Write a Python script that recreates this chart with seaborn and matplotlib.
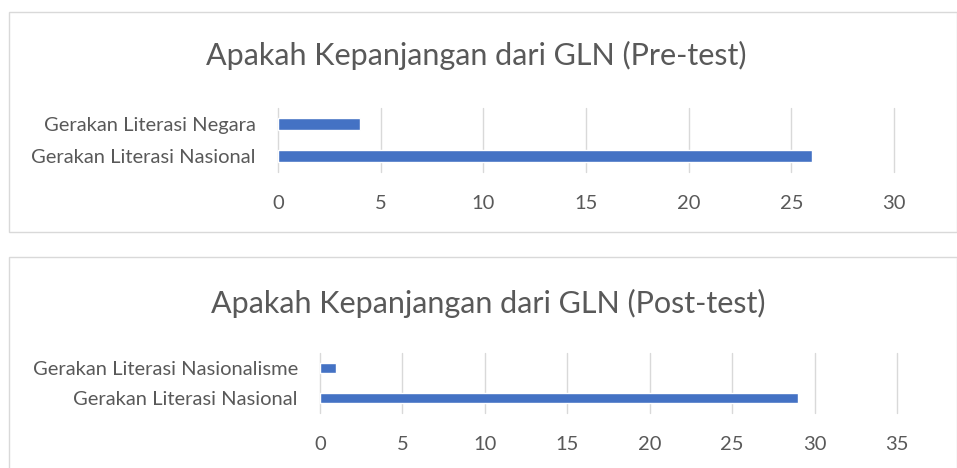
import matplotlib
matplotlib.use("Agg")
import matplotlib.pyplot as plt
import seaborn as sns
from matplotlib.patches import Rectangle

# Data
pre_title = "Apakah Kepanjangan dari GLN (Pre-test)"
pre_categories = ["Gerakan Literasi Negara", "Gerakan Literasi Nasional"]
pre_values = [4, 26]
pre_ticks = [0, 5, 10, 15, 20, 25, 30]

post_title = "Apakah Kepanjangan dari GLN (Post-test)"
post_categories = ["Gerakan Literasi Nasionalisme", "Gerakan Literasi Nasional"]
post_values = [1, 29]
post_ticks = [0, 5, 10, 15, 20, 25, 30, 35]

bar_color = "#4472C4"
text_color = "#595959"
grid_color = "#D9D9D9"

sns.set_style("white")
plt.rcParams['font.family'] = ['Lato', 'DejaVu Sans']

W, H = 957, 468
fig = plt.figure(figsize=(W / 100, H / 100), dpi=100)


def px_axes(left, top, right, bottom):
    return fig.add_axes([left / W, 1 - bottom / H, (right - left) / W, (bottom - top) / H])


def draw_chart(ax, cats, vals, ticks, width):
    sns.barplot(x=vals, y=cats, ax=ax, color=bar_color, width=width,
                orient='h', saturation=1)
    ax.set_xlim(ticks[0], ticks[-1])
    ax.set_xticks(ticks)
    ax.set_xlabel("")
    ax.set_ylabel("")
    for s in ax.spines.values():
        s.set_visible(False)
    ax.grid(axis='x', color=grid_color, linewidth=1)
    ax.grid(axis='y', visible=False)
    for gl in ax.get_xgridlines():
        gl.set_clip_on(False)
    ax.set_axisbelow(True)
    ax.tick_params(axis='x', length=0, pad=16.5, labelsize=14.5, labelcolor=text_color)
    ax.tick_params(axis='y', length=0, pad=16, labelsize=14.5, labelcolor=text_color)


# chart frames
fig.add_artist(Rectangle((9 / W, 1 - 232 / H), (W - 9) / W, 220 / H,
                         transform=fig.transFigure, fill=False,
                         edgecolor="#D9D9D9", linewidth=1))
fig.add_artist(Rectangle((9 / W, -0.05), (W - 9) / W, 1 - 257 / H + 0.05,
                         transform=fig.transFigure, fill=False,
                         edgecolor="#D9D9D9", linewidth=1))

ax1 = px_axes(278, 108, 894, 172)
draw_chart(ax1, pre_categories, pre_values, pre_ticks, 0.35)
fig.text(476 / W, 1 - 55 / H, pre_title, ha='center', va='center',
         fontsize=22, color=text_color)

ax2 = px_axes(320, 353, 897, 413)
draw_chart(ax2, post_categories, post_values, post_ticks, 0.33)
fig.text(488 / W, 1 - 303 / H, post_title, ha='center', va='center',
         fontsize=22, color=text_color)

fig.savefig("out.png", dpi=100)
